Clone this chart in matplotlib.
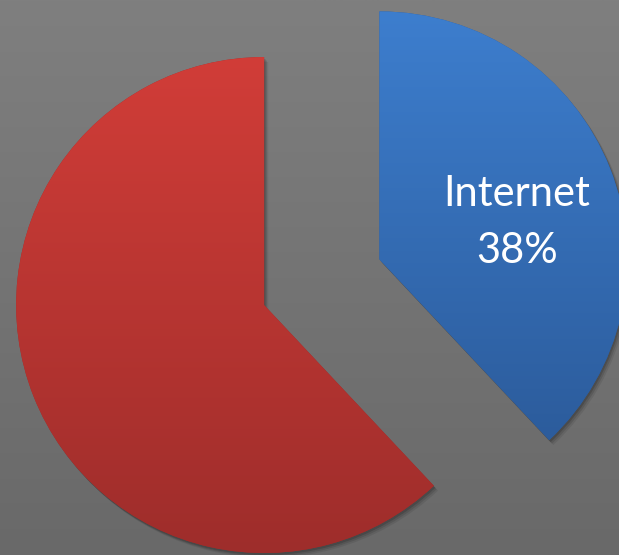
import numpy as np
import matplotlib
matplotlib.use('Agg')
import matplotlib.pyplot as plt
import matplotlib.patheffects as pe
from matplotlib.colors import to_rgb

# data
labels = ['Internet', 'Other']
shares = [38, 62]
explode = [0.5, 0.0]
top_colors = ['#3D7ECE', '#D13D38']
bottom_colors = ['#2C5C9C', '#9E2D2B']

def vgrad(c_bottom, c_top, n=256):
    b = np.array(to_rgb(c_bottom))
    t = np.array(to_rgb(c_top))
    f = np.linspace(0, 1, n)[:, None]
    return (b + (t - b) * f)[:, None, :]

fig = plt.figure(figsize=(6.19, 5.55), dpi=100)

# gray gradient background
bg = fig.add_axes([0, 0, 1, 1])
bg.imshow(vgrad('#696969', '#7f7f7f'), extent=[0, 1, 0, 1], origin='lower', aspect='auto')
bg.axis('off')

ax = fig.add_axes([0, 0, 1, 1])
ax.patch.set_alpha(0)
wedges, texts = ax.pie(shares, labels=[labels[0] + '\n' + '38%', ''], explode=explode,
                       startangle=90, counterclock=False, radius=1,
                       labeldistance=0.58,
                       textprops=dict(color='white', fontsize=30, family='Lato',
                                      ha='center', va='center', linespacing=1.6))

shadow = [pe.SimplePatchShadow(offset=(1, -1.5), shadow_rgbFace='black', alpha=0.15),
          pe.SimplePatchShadow(offset=(2, -2.5), shadow_rgbFace='black', alpha=0.11),
          pe.SimplePatchShadow(offset=(3, -3.5), shadow_rgbFace='black', alpha=0.08),
          pe.Normal()]

for w, ct, cb in zip(wedges, top_colors, bottom_colors):
    w.set_facecolor(cb)
    w.set_edgecolor('none')
    w.set_path_effects(shadow)
    ext = w.get_path().get_extents()
    im = ax.imshow(vgrad(cb, ct), extent=[ext.x0, ext.x1, ext.y0, ext.y1],
                   origin='lower', aspect='auto', zorder=w.get_zorder() + 0.1)
    im.set_clip_path(w)

x, y = texts[0].get_position()
texts[0].set_position((x + 0.015, y - 0.065))
texts[0].set_zorder(5)

ax.set_xlim(-1.065, 1.431)
ax.set_ylim(-1.008, 1.230)
ax.set_aspect('auto')
ax.axis('off')

fig.savefig('out.png', dpi=100)
